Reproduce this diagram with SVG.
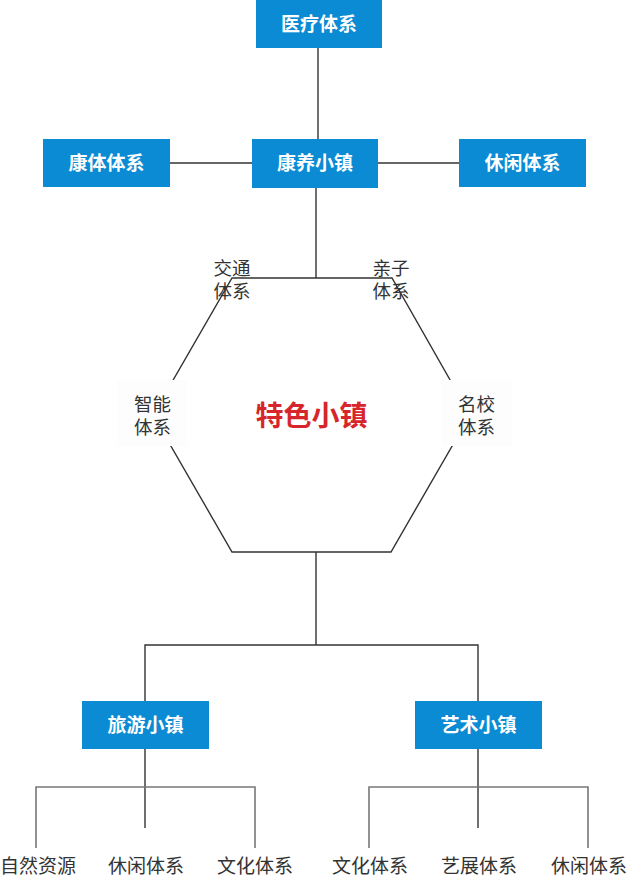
<svg xmlns="http://www.w3.org/2000/svg" width="630" height="878" viewBox="0 0 630 878">
<style>
.box{fill:#0b8bd3}
.bt{font-family:"Noto Sans CJK SC","Noto Sans",sans-serif;font-size:19px;font-weight:bold;fill:#fff;text-anchor:middle}
.lbl{font-family:"Noto Sans CJK SC","Noto Sans",sans-serif;font-size:18.5px;fill:#333;text-anchor:middle}
.leaf{font-family:"Noto Sans CJK SC","Noto Sans",sans-serif;font-size:19px;fill:#333;text-anchor:middle}
.ln{stroke:#333;stroke-width:1.4;fill:none}
.ln2{stroke:#777;stroke-width:1.6;fill:none}
</style>
<rect width="630" height="878" fill="#fff"/>
<g id="connectors">
<line class="ln" x1="318" y1="48" x2="318" y2="140"/>
<line class="ln" x1="170" y1="163" x2="252" y2="163"/>
<line class="ln" x1="378" y1="163" x2="459" y2="163"/>
<line class="ln" x1="316" y1="188" x2="316" y2="278"/>
<polygon class="ln" points="232,278 392,278 470,415 391,552 232,552 153,415"/>
<line class="ln" x1="316" y1="552" x2="316" y2="645"/>
<polyline class="ln" points="145,701 145,645 478,645 478,701"/>
<line class="ln" x1="145" y1="749" x2="145" y2="828"/>
<polyline class="ln2" points="36,848 36,787 255,787 255,848"/>
<line class="ln" x1="478" y1="749" x2="478" y2="828"/>
<polyline class="ln2" points="369,848 369,787 588,787 588,848"/>
</g>
<g id="n-yiliao"><rect class="box" x="256" y="0" width="126" height="48"/><text class="bt" x="319" y="31">医疗体系</text></g>
<g id="n-kangyang"><rect class="box" x="252" y="139" width="126" height="49"/><text class="bt" x="315" y="170">康养小镇</text></g>
<g id="n-kangti"><rect class="box" x="43" y="139" width="127" height="48"/><text class="bt" x="106.5" y="170">康体体系</text></g>
<g id="n-xiuxian1"><rect class="box" x="459" y="139" width="127" height="48"/><text class="bt" x="522.5" y="170">休闲体系</text></g>
<g id="n-jiaotong"><text class="lbl" x="232" y="275">交通</text><text class="lbl" x="232" y="298">体系</text></g>
<g id="n-qinzi"><text class="lbl" x="391" y="275">亲子</text><text class="lbl" x="391" y="298">体系</text></g>
<g id="n-zhineng"><rect x="117" y="380" width="70" height="66" fill="#fdfdfd"/><text class="lbl" x="152.5" y="411">智能</text><text class="lbl" x="152.5" y="434">体系</text></g>
<g id="n-mingxiao"><rect x="442" y="380" width="70" height="66" fill="#fdfdfd"/><text class="lbl" x="476.5" y="411">名校</text><text class="lbl" x="476.5" y="434">体系</text></g>
<g id="n-tese"><text x="311.5" y="426" font-family="'Noto Sans CJK SC','Noto Sans',sans-serif" font-size="28" font-weight="bold" fill="#d6262c" text-anchor="middle">特色小镇</text></g>
<g id="n-lvyou"><rect class="box" x="82" y="701" width="127" height="48"/><text class="bt" x="145.5" y="732">旅游小镇</text></g>
<g id="n-yishu"><rect class="box" x="415" y="701" width="127" height="48"/><text class="bt" x="478.5" y="732">艺术小镇</text></g>
<g id="n-ziran"><text class="leaf" x="38" y="873">自然资源</text></g>
<g id="n-xiuxian2"><text class="leaf" x="146" y="873">休闲体系</text></g>
<g id="n-wenhua1"><text class="leaf" x="255" y="873">文化体系</text></g>
<g id="n-wenhua2"><text class="leaf" x="370" y="873">文化体系</text></g>
<g id="n-yizhan"><text class="leaf" x="479" y="873">艺展体系</text></g>
<g id="n-xiuxian3"><text class="leaf" x="589" y="873">休闲体系</text></g>
</svg>
